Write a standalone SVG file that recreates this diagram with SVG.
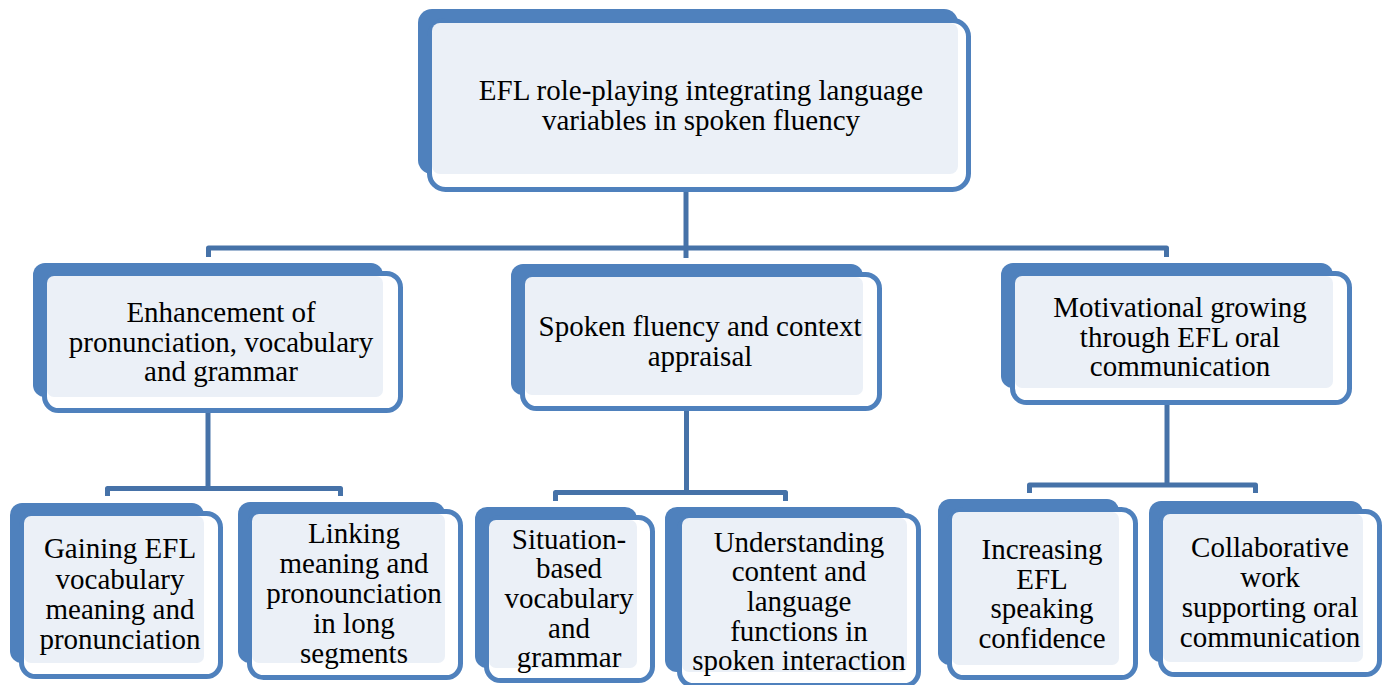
<svg xmlns="http://www.w3.org/2000/svg" width="1388" height="685" viewBox="0 0 1388 685">
<style>
.back{fill:#4F81BD}
.front{fill:#FFFFFF;stroke:#4F81BD;stroke-width:5}
.light{fill:#EBF0F7}
.conn{fill:none;stroke:#4672A8;stroke-width:5;stroke-linejoin:round}
.t{font-family:'Liberation Serif','Times New Roman',Times,serif;font-size:29px;fill:#000;text-anchor:middle}
</style>
<rect width="1388" height="685" fill="#FFFFFF"/>
<g id="connectors">
<path class="conn" d="M686,190 V258"/>
<path class="conn" d="M208.5,257 V248 H1166.5 V257"/>
<path class="conn" d="M208,411 V488.5"/>
<path class="conn" d="M107.5,496 V488.5 H340.5 V496"/>
<path class="conn" d="M686.5,409 V492.5"/>
<path class="conn" d="M555.5,501 V492.5 H785.5 V501"/>
<path class="conn" d="M1167,403 V485"/>
<path class="conn" d="M1029.5,493 V485 H1255.5 V493"/>
</g>
<g id="n0">
<rect class="back" x="418" y="9" width="540" height="165" rx="14"/>
<rect class="front" x="429.5" y="20.5" width="539" height="169" rx="16"/>
<rect class="light" x="432" y="23" width="526" height="151" rx="8"/>
<text class="t" font-family="Liberation Serif, serif" x="701" y="100">EFL role-playing integrating language</text>
<text class="t" font-family="Liberation Serif, serif" x="701" y="130">variables in spoken fluency</text>
</g>
<g id="n1" class="t" font-family="Liberation Serif, serif">
<rect class="back" x="33" y="263" width="350" height="134" rx="12"/>
<rect class="front" x="44.5" y="273.5" width="356" height="137" rx="14"/>
<rect class="light" x="47" y="276" width="336" height="121" rx="7"/>
<text x="221" y="322">Enhancement of</text>
<text x="221" y="352">pronunciation, vocabulary</text>
<text x="221" y="381">and grammar</text>
</g>
<g id="n2" class="t">
<rect class="back" x="511" y="264" width="352" height="131" rx="12"/>
<rect class="front" x="522.5" y="274.5" width="357" height="134" rx="14"/>
<rect class="light" x="525" y="277" width="338" height="118" rx="7"/>
<text x="700" y="336">Spoken fluency and context</text>
<text x="700" y="366">appraisal</text>
</g>
<g id="n3" class="t">
<rect class="back" x="1001" y="263" width="332" height="125" rx="12"/>
<rect class="front" x="1012.5" y="273.5" width="337" height="129" rx="14"/>
<rect class="light" x="1015" y="276" width="318" height="112" rx="7"/>
<text x="1180" y="317">Motivational growing</text>
<text x="1180" y="347">through EFL oral</text>
<text x="1180" y="376">communication</text>
</g>
<g id="n4" class="t">
<rect class="back" x="10" y="503" width="194" height="160" rx="12"/>
<rect class="front" x="21.5" y="513.5" width="199" height="163" rx="14"/>
<rect class="light" x="24" y="516" width="180" height="147" rx="7"/>
<text x="120" y="558">Gaining EFL</text>
<text x="120" y="589">vocabulary</text>
<text x="120" y="619">meaning and</text>
<text x="120" y="649">pronunciation</text>
</g>
<g id="n5" class="t">
<rect class="back" x="238" y="502" width="207" height="161" rx="12"/>
<rect class="front" x="249.5" y="511.5" width="211" height="166" rx="14"/>
<rect class="light" x="252" y="514" width="193" height="149" rx="7"/>
<text x="354" y="543">Linking</text>
<text x="354" y="573">meaning and</text>
<text x="354" y="603">pronounciation</text>
<text x="354" y="633">in long</text>
<text x="354" y="663">segments</text>
</g>
<g id="n6" class="t">
<rect class="back" x="475" y="507" width="162" height="161" rx="12"/>
<rect class="front" x="486.5" y="517.5" width="166" height="163" rx="14"/>
<rect class="light" x="489" y="520" width="148" height="148" rx="7"/>
<text x="569" y="549">Situation-</text>
<text x="569" y="578">based</text>
<text x="569" y="608">vocabulary</text>
<text x="569" y="638">and</text>
<text x="569" y="667">grammar</text>
</g>
<g id="n7" class="t">
<rect class="back" x="665" y="507" width="242" height="165" rx="12"/>
<rect class="front" x="679.5" y="515.5" width="239" height="170" rx="14"/>
<rect class="light" x="682" y="518" width="225" height="154" rx="7"/>
<text x="799" y="552">Understanding</text>
<text x="799" y="581">content and</text>
<text x="799" y="611">language</text>
<text x="799" y="641">functions in</text>
<text x="799" y="670">spoken interaction</text>
</g>
<g id="n8" class="t">
<rect class="back" x="938" y="499" width="181" height="166" rx="12"/>
<rect class="front" x="949.5" y="509.5" width="186" height="168" rx="14"/>
<rect class="light" x="952" y="512" width="167" height="153" rx="7"/>
<text x="1042" y="559">Increasing</text>
<text x="1042" y="589">EFL</text>
<text x="1042" y="618">speaking</text>
<text x="1042" y="648">confidence</text>
</g>
<g id="n9" class="t">
<rect class="back" x="1149" y="501" width="214" height="161" rx="12"/>
<rect class="front" x="1160.5" y="511.5" width="219" height="163" rx="14"/>
<rect class="light" x="1163" y="514" width="200" height="148" rx="7"/>
<text x="1270" y="557">Collaborative</text>
<text x="1270" y="587">work</text>
<text x="1270" y="617">supporting oral</text>
<text x="1270" y="647">communication</text>
</g>
</svg>
